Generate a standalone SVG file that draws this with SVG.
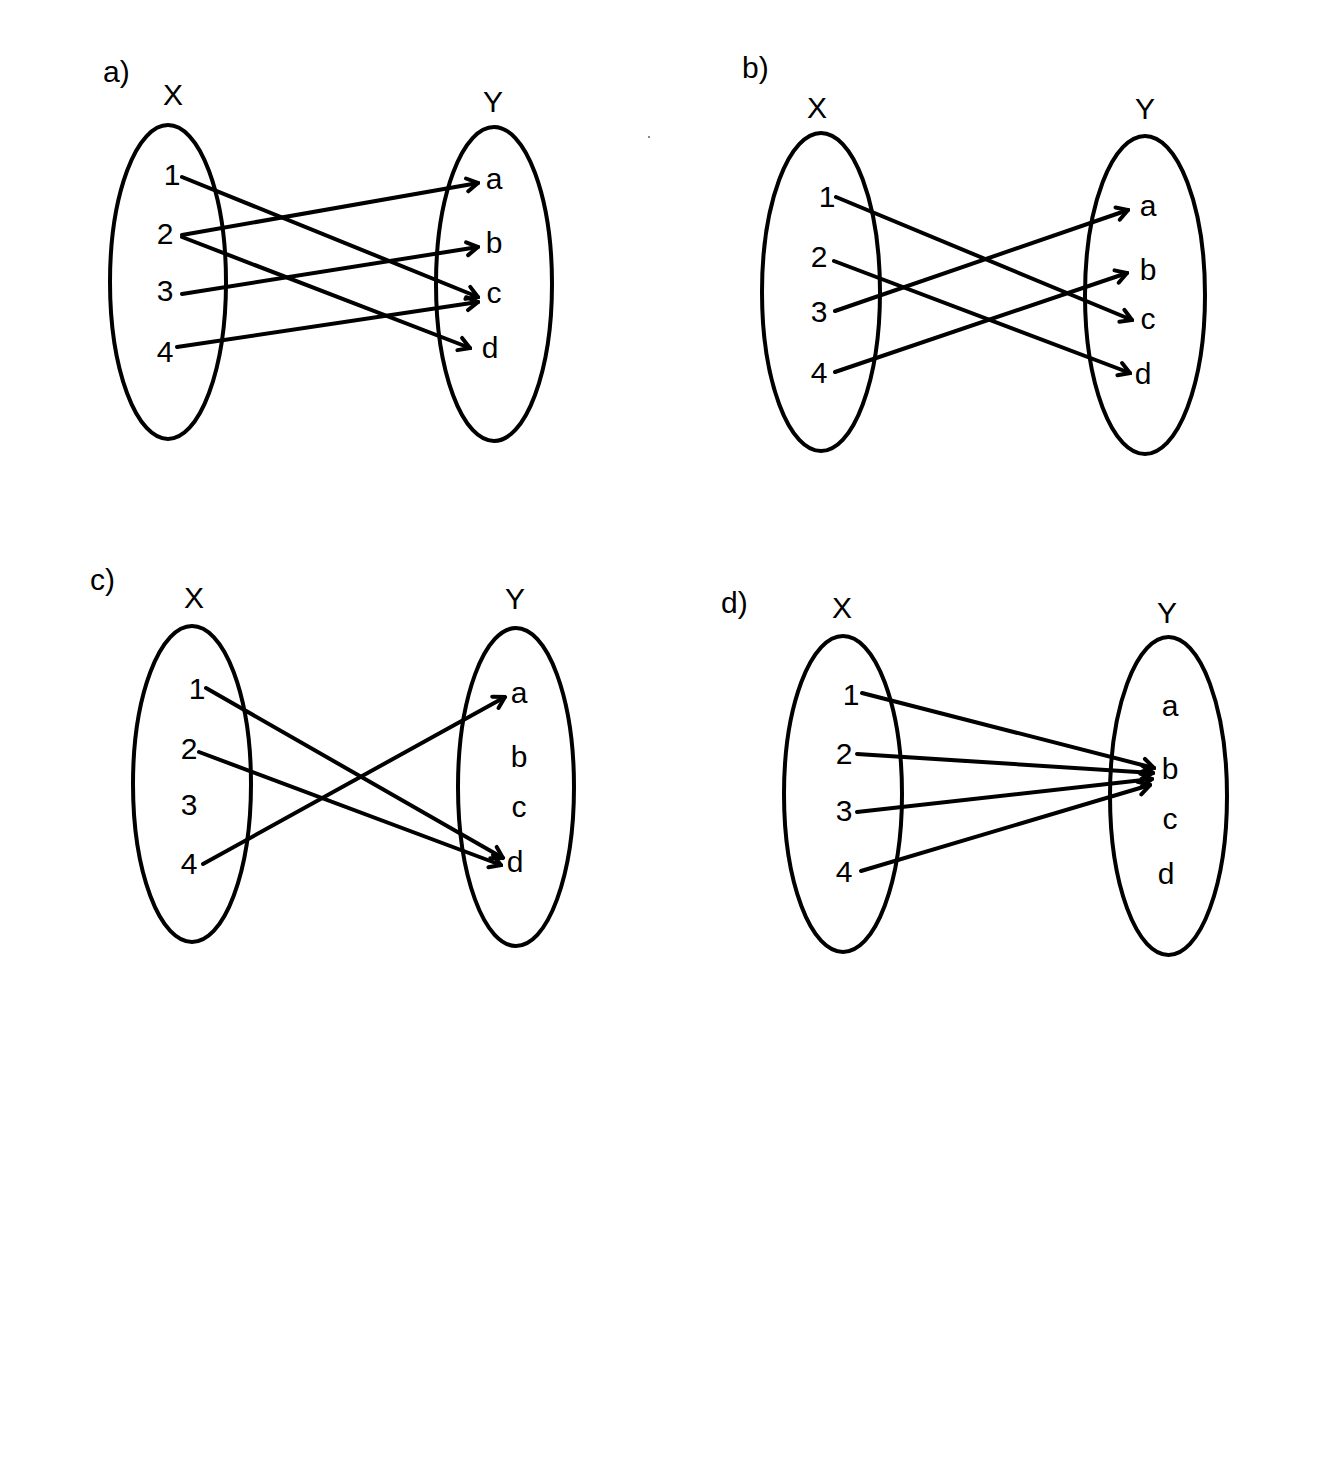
<svg xmlns="http://www.w3.org/2000/svg" width="1318" height="1481" viewBox="0 0 1318 1481">
<style>
.set{fill:none;stroke:#000;stroke-width:4}
.t{font-family:"Liberation Sans",Arial,sans-serif;font-size:30px;fill:#000;text-anchor:middle}
.tl{font-family:"Liberation Sans",Arial,sans-serif;font-size:30px;fill:#000}
.c{fill:none;stroke:#000;stroke-width:4;stroke-linecap:round;marker-end:url(#ah)}
</style>
<defs>
<marker id="ah" viewBox="-14 -9 16 18" refX="0" refY="0" markerWidth="16" markerHeight="18" markerUnits="userSpaceOnUse" orient="auto">
<path d="M-11,-6.5 L0,0 L-11,6.5" fill="none" stroke="#000" stroke-width="4" stroke-linejoin="miter" stroke-linecap="round"/>
</marker>
</defs>
<rect width="1318" height="1481" fill="#fff"/>
<rect x="648" y="136" width="2" height="2" fill="#888"/>

<!-- Panel a -->
<g id="panel-a-label"><text class="tl" x="103" y="82">a)</text></g>
<g id="a-X"><ellipse class="set" cx="168" cy="282" rx="58" ry="157"/><text class="t" x="173" y="105">X</text>
<text class="t" x="172" y="185">1</text><text class="t" x="165" y="244">2</text><text class="t" x="165" y="301">3</text><text class="t" x="165" y="362">4</text></g>
<g id="a-Y"><ellipse class="set" cx="494" cy="284" rx="58" ry="157"/><text class="t" x="493" y="112">Y</text>
<text class="t" x="494" y="189">a</text><text class="t" x="494" y="253">b</text><text class="t" x="494" y="303">c</text><text class="t" x="490" y="358">d</text></g>

<!-- Panel b -->
<g id="panel-b-label"><text class="tl" x="742" y="78">b)</text></g>
<g id="b-X"><ellipse class="set" cx="821" cy="292" rx="59" ry="159"/><text class="t" x="817" y="118">X</text>
<text class="t" x="827" y="207">1</text><text class="t" x="819" y="267">2</text><text class="t" x="819" y="322">3</text><text class="t" x="819" y="383">4</text></g>
<g id="b-Y"><ellipse class="set" cx="1145" cy="295" rx="60" ry="159"/><text class="t" x="1145" y="119">Y</text>
<text class="t" x="1148" y="216">a</text><text class="t" x="1148" y="280">b</text><text class="t" x="1148" y="329">c</text><text class="t" x="1143" y="384">d</text></g>

<!-- Panel c -->
<g id="panel-c-label"><text class="tl" x="90" y="590">c)</text></g>
<g id="c-X"><ellipse class="set" cx="192" cy="784" rx="59" ry="158"/><text class="t" x="194" y="608">X</text>
<text class="t" x="197" y="699">1</text><text class="t" x="189" y="759">2</text><text class="t" x="189" y="815">3</text><text class="t" x="189" y="874">4</text></g>
<g id="c-Y"><ellipse class="set" cx="516" cy="787" rx="58" ry="159"/><text class="t" x="515" y="609">Y</text>
<text class="t" x="519" y="703">a</text><text class="t" x="519" y="767">b</text><text class="t" x="519" y="817">c</text><text class="t" x="515" y="872">d</text></g>

<!-- Panel d -->
<g id="panel-d-label"><text class="tl" x="721" y="613">d)</text></g>
<g id="d-X"><ellipse class="set" cx="843" cy="794" rx="59" ry="158"/><text class="t" x="842" y="618">X</text>
<text class="t" x="851" y="705">1</text><text class="t" x="844" y="764">2</text><text class="t" x="844" y="821">3</text><text class="t" x="844" y="882">4</text></g>
<g id="d-Y"><ellipse class="set" cx="1168.5" cy="796" rx="58.5" ry="159"/><text class="t" x="1167" y="623">Y</text>
<text class="t" x="1170" y="716">a</text><text class="t" x="1170" y="779">b</text><text class="t" x="1170" y="829">c</text><text class="t" x="1166" y="884">d</text></g>

<g id="connectors">
<line class="c" x1="182" y1="177" x2="478" y2="297"/>
<line class="c" x1="182" y1="235" x2="478" y2="183"/>
<line class="c" x1="182" y1="237" x2="470" y2="348"/>
<line class="c" x1="182" y1="294" x2="478" y2="247"/>
<line class="c" x1="177" y1="347" x2="478" y2="302"/>

<line class="c" x1="836" y1="197" x2="1132" y2="320"/>
<line class="c" x1="834" y1="261" x2="1130" y2="373"/>
<line class="c" x1="835" y1="311" x2="1128" y2="210"/>
<line class="c" x1="835" y1="372" x2="1127" y2="273"/>

<line class="c" x1="206" y1="688" x2="503" y2="858"/>
<line class="c" x1="199" y1="752" x2="501" y2="865"/>
<line class="c" x1="203" y1="864" x2="505" y2="697"/>

<line class="c" x1="862" y1="693" x2="1154" y2="768"/>
<line class="c" x1="857" y1="754" x2="1153" y2="773"/>
<line class="c" x1="857" y1="812" x2="1152" y2="779"/>
<line class="c" x1="861" y1="871" x2="1150" y2="785"/>
</g>
</svg>
